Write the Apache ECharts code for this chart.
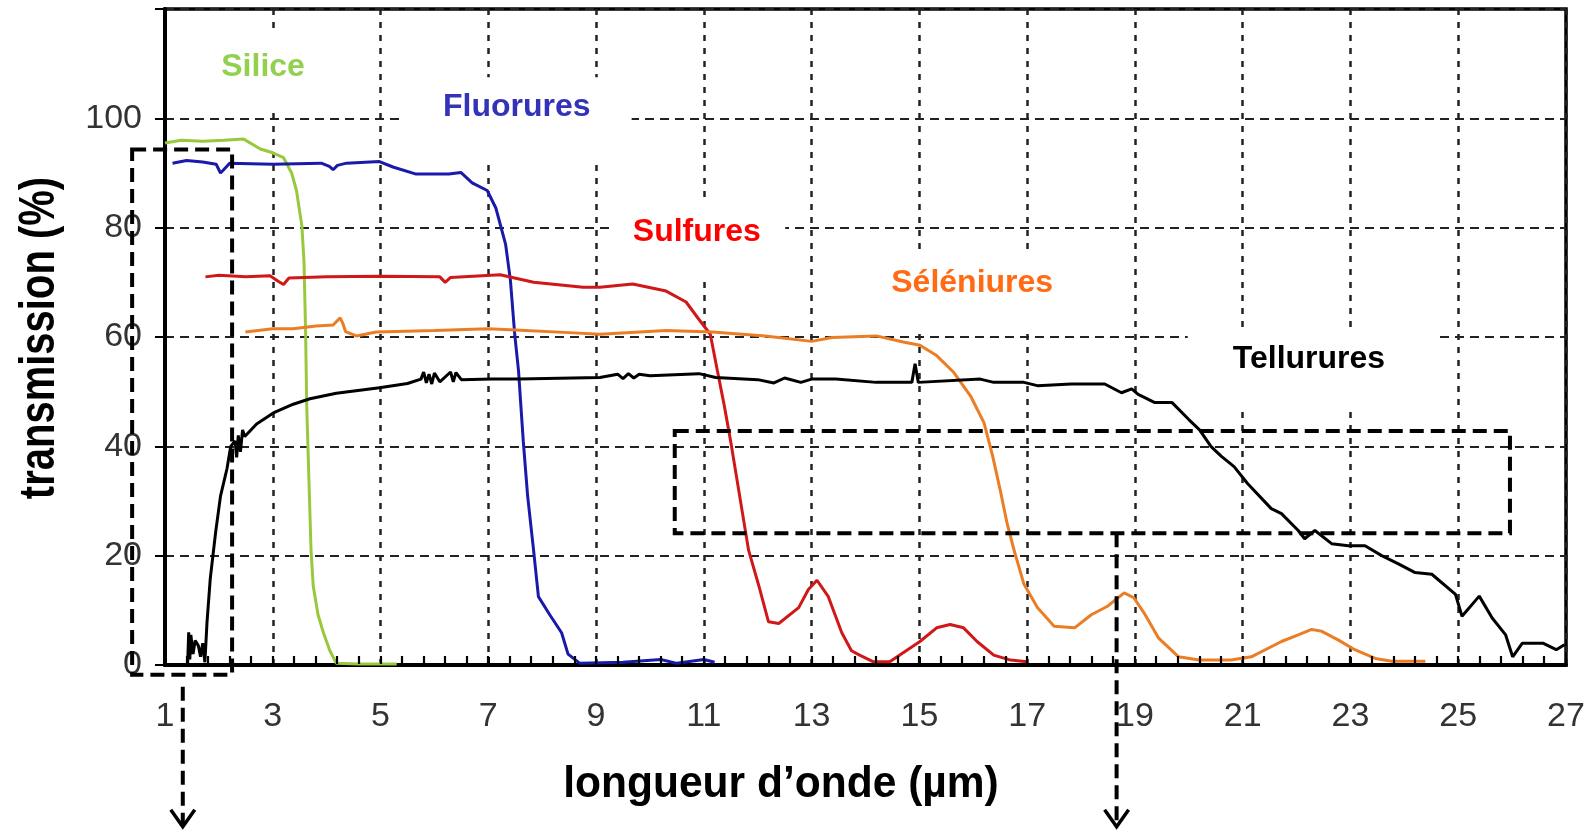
<!DOCTYPE html>
<html>
<head>
<meta charset="utf-8">
<script src="https://cdn.jsdelivr.net/npm/echarts@6/dist/echarts.min.js"></script>
<style>
html,body{margin:0;padding:0;background:#fff;}
#c{width:1592px;height:830px;}
</style>
</head>
<body>
<div id="c"></div>
<script>
// ---------- data (wavelength µm, transmission %) ----------
const xTickLabels = [1,3,5,7,9,11,13,15,17,19,21,23,25,27];
const xMinorStep = 0.4;
const yTickLabels = [0,20,40,60,80,100];

const silice = [[1.0,95.5],[1.3,96.0],[1.7,95.8],[2.1,96.0],[2.46,96.2],[2.77,94.4],[3.0,93.7],[3.2,92.8],[3.35,90.0],[3.44,86.8],[3.54,80.3],[3.58,73.7],[3.61,60.5],[3.63,47.4],[3.67,34.2],[3.71,21.0],[3.75,14.5],[3.84,9.2],[3.94,5.9],[4.06,2.6],[4.18,0.3],[4.6,0.2],[5.3,0.2]];

const fluorures = [[1.14,91.8],[1.4,92.3],[1.7,92.0],[1.95,91.6],[2.03,90.0],[2.08,90.5],[2.2,91.8],[3.0,91.6],[3.9,91.8],[4.05,91.2],[4.12,90.6],[4.2,91.4],[4.37,91.8],[4.98,92.1],[5.23,91.1],[5.66,89.8],[6.27,89.8],[6.49,90.1],[6.7,88.2],[6.98,86.8],[7.14,83.6],[7.32,77.0],[7.41,70.4],[7.49,60.5],[7.56,53.9],[7.65,40.8],[7.73,30.9],[7.84,21.0],[7.93,12.5],[8.14,9.2],[8.36,5.9],[8.48,2.0],[8.7,0.3],[9.5,0.5],[10.2,1.0],[10.5,0.3],[11.0,1.0],[11.2,0.5]];

const sulfures = [[1.75,71.0],[2.0,71.3],[2.5,71.0],[2.95,71.2],[3.1,70.2],[3.2,69.6],[3.3,70.8],[4.0,71.0],[5.0,71.1],[6.1,71.0],[6.2,70.0],[6.3,70.9],[7.22,71.4],[7.84,70.0],[8.76,69.1],[9.07,69.1],[9.68,69.7],[10.3,68.4],[10.67,66.4],[10.91,63.2],[11.12,60.5],[11.25,53.9],[11.38,47.4],[11.5,40.8],[11.61,34.2],[11.72,27.6],[11.83,21.0],[12.02,14.5],[12.2,7.9],[12.39,7.6],[12.76,10.5],[12.94,13.8],[13.1,15.5],[13.31,12.5],[13.56,5.9],[13.74,2.6],[13.89,1.8],[14.14,0.6],[14.45,0.6],[15.01,4.3],[15.32,6.8],[15.57,7.4],[15.82,6.8],[16.07,4.3],[16.38,1.8],[16.69,0.9],[17.0,0.6]];

const seleniures = [[2.49,60.9],[3.0,61.5],[3.38,61.5],[3.8,62.0],[4.12,62.2],[4.25,63.5],[4.3,62.5],[4.35,61.0],[4.55,60.2],[4.92,60.9],[6.0,61.2],[7.0,61.5],[7.5,61.3],[8.5,60.8],[9.07,60.5],[10.3,61.2],[11.16,60.9],[12.14,60.2],[13.0,59.2],[13.38,59.9],[14.2,60.2],[14.7,59.1],[15.01,58.5],[15.32,56.6],[15.64,53.5],[15.95,49.2],[16.2,44.3],[16.36,38.2],[16.5,32.0],[16.63,25.8],[16.76,20.9],[16.94,14.8],[17.19,10.5],[17.5,7.1],[17.88,6.8],[18.19,9.2],[18.5,10.8],[18.8,13.2],[18.98,12.3],[19.19,9.2],[19.44,4.9],[19.81,1.5],[20.19,0.9],[20.78,0.9],[21.16,1.5],[21.72,4.3],[22.03,5.5],[22.28,6.5],[22.46,6.2],[22.77,4.6],[23.08,2.8],[23.46,1.2],[23.77,0.7],[24.39,0.7]];

const tellurures = [[1.42,0.3],[1.44,6.0],[1.46,1.0],[1.48,5.5],[1.52,2.0],[1.56,4.5],[1.62,3.5],[1.66,1.5],[1.70,4.0],[1.74,0.5],[1.78,7.9],[1.84,15.8],[1.94,24.3],[2.03,30.9],[2.15,35.9],[2.22,40.0],[2.30,41.0],[2.33,38.0],[2.36,42.0],[2.40,39.0],[2.44,43.0],[2.48,41.8],[2.7,44.1],[3.01,46.1],[3.38,47.7],[3.69,48.7],[4.18,49.7],[4.98,50.7],[5.5,51.5],[5.75,52.3],[5.8,53.6],[5.85,51.6],[5.9,53.2],[5.95,51.4],[6.0,53.4],[6.1,51.8],[6.3,53.6],[6.35,51.8],[6.4,53.5],[6.5,52.2],[7.07,52.3],[7.57,52.3],[9.07,52.6],[9.4,53.2],[9.5,52.4],[9.6,53.3],[9.7,52.5],[9.8,53.2],[10.0,52.9],[10.91,53.3],[11.22,52.6],[12.0,52.2],[12.3,51.6],[12.5,52.5],[12.8,51.7],[13.0,52.3],[13.45,52.3],[14.2,51.7],[14.86,51.7],[14.92,55.1],[14.98,51.7],[16.13,52.3],[16.38,51.7],[16.94,51.7],[17.19,51.1],[17.82,51.4],[18.44,51.4],[18.75,49.8],[18.94,50.5],[19.06,49.5],[19.37,48.0],[19.69,48.0],[20.0,44.9],[20.2,43.0],[20.41,40.0],[20.6,38.2],[20.84,36.3],[21.09,33.2],[21.53,28.6],[21.72,27.7],[22.03,24.6],[22.15,23.1],[22.34,24.6],[22.65,22.2],[22.96,21.8],[23.27,21.8],[23.58,20.0],[23.89,18.5],[24.2,16.9],[24.51,16.6],[24.95,12.9],[25.07,8.9],[25.39,12.6],[25.63,8.6],[25.88,5.5],[26.01,1.5],[26.19,4.0],[26.57,4.0],[26.82,2.8],[26.97,3.7]];

const seriesNames = ['Silice','Fluorures','Sulfures','Séléniures','Tellurures'];
const seriesData = [silice, fluorures, sulfures, seleniures, tellurures];

// ---------- styling / layout ----------
const lineColors = ['#98c93c','#1a1aaa','#d01818','#eb7d25','#000000'];
const labelColors = ['#92d050','#3333b8','#ff0000','#ff6a13','#000000'];
// label boxes in data units: [x1, x2, yTop, yBottom, textX, textY]
const labelBoxes = [
  [1.39, 4.55, 115.5, 101.5, 2.82, 109.3],
  [5.41, 9.66, 107.5, 92.3, 7.53, 102.0],
  [9.25, 12.51, 84.5, 70.2, 10.87, 79.1],
  [13.68, 18.36, 75.9, 61.2, 15.98, 69.9],
  [19.98, 24.55, 61.6, 47.3, 22.23, 55.9]
];
// dashed annotation rectangles [x1, x2, yTop, yBottom]
const dashRects = [
  [0.39, 2.245, 94.3, -1.8],
  [10.46, 25.96, 42.8, 24.1]
];
// dashed arrows [x, yStart, yEnd]
const dashArrows = [
  [1.33, -4.0, -29.6],
  [18.66, 24.1, -29.6]
];

const FONT = '"Liberation Sans", Arial, Helvetica, sans-serif';

const chart = echarts.init(document.getElementById('c'), null, {renderer: 'canvas'});

const xMin = xTickLabels[0], xMax = xTickLabels[xTickLabels.length - 1];

const option = {
  animation: false,
  backgroundColor: '#ffffff',
  grid: {left: 165, right: 26, top: 9, bottom: 165, show: true, borderColor: '#000', borderWidth: 3.5, backgroundColor: 'transparent', containLabel: false},
  xAxis: {
    type: 'value',
    min: xMin, max: xMax,
    interval: xTickLabels[1] - xTickLabels[0],
    axisLine: {show: true, onZero: false, lineStyle: {color: '#000', width: 4}},
    axisTick: {show: true, inside: true, length: 8, lineStyle: {color: '#000', width: 2}},
    axisLabel: {show: true, margin: 35, fontSize: 34, fontFamily: FONT, color: '#333',
      formatter: v => xTickLabels.includes(v) ? String(v) : ''},
    splitLine: {show: true, lineStyle: {color: '#222', width: 2.5, type: [6, 7]}}
  },
  yAxis: {
    type: 'value',
    min: 0, max: 120, interval: 20,
    axisLine: {show: true, onZero: false, lineStyle: {color: '#000', width: 4}},
    axisTick: {show: true, inside: false, length: 10, lineStyle: {color: '#000', width: 2}},
    axisLabel: {show: true, margin: 23, fontSize: 34, fontFamily: FONT, color: '#333',
      formatter: v => yTickLabels.includes(v) ? String(v) : ''},
    splitLine: {show: true, lineStyle: {color: '#222', width: 2, type: [9, 6]}}
  },
  series: seriesData.map((d, i) => ({
    name: seriesNames[i],
    type: 'line',
    data: d,
    showSymbol: false,
    symbol: 'none',
    smooth: false,
    z: 5,
    lineStyle: {color: lineColors[i], width: 3},
    itemStyle: {color: lineColors[i]}
  }))
};

chart.setOption(option);

function P(p) { return chart.convertToPixel({gridIndex: 0}, p); }

const graphics = [];
// minor ticks on the wavelength axis (inside, every xMinorStep)
const nMinor = Math.round((xMax - xMin) / xMinorStep);
for (let k = 1; k < nMinor; k++) {
  const v = xMin + k * xMinorStep;
  const p = P([v, 0]);
  const xx = Math.round(p[0]);
  graphics.push({type: 'polyline', z: 30, silent: true,
    shape: {points: [[xx, p[1] - 1], [xx, p[1] - 9]]},
    style: {stroke: '#000', lineWidth: 2.2, fill: null}});
}
labelBoxes.forEach((b, i) => {
  const a = P([b[0], b[2]]), c = P([b[1], b[3]]);
  graphics.push({type: 'rect', z: 1, silent: true,
    shape: {x: a[0], y: a[1], width: c[0] - a[0], height: c[1] - a[1]},
    style: {fill: '#ffffff', stroke: null}});
  const t = P([b[4], b[5]]);
  graphics.push({type: 'text', z: 20, x: t[0], y: t[1], silent: true,
    style: {text: seriesNames[i], fill: labelColors[i], fontSize: 32, fontWeight: 'bold', fontFamily: FONT, align: 'center', verticalAlign: 'middle'}});
});
dashRects.forEach(r => {
  const a = P([r[0], r[2]]), c = P([r[1], r[3]]);
  graphics.push({type: 'rect', z: 30, silent: true,
    shape: {x: a[0], y: a[1], width: c[0] - a[0], height: c[1] - a[1]},
    style: {fill: 'transparent', stroke: '#000', lineWidth: 4, lineDash: [14, 7]}});
});
dashArrows.forEach(ar => {
  const s = P([ar[0], ar[1]]), e = P([ar[0], ar[2]]);
  graphics.push({type: 'polyline', z: 30, silent: true,
    shape: {points: [[s[0], s[1]], [e[0], e[1] - 2]]},
    style: {stroke: '#000', lineWidth: 4, lineDash: [14, 7], fill: null}});
  graphics.push({type: 'polyline', z: 30, silent: true,
    shape: {points: [[e[0] - 12, e[1] - 17], [e[0], e[1]], [e[0] + 12, e[1] - 17]]},
    style: {stroke: '#000', lineWidth: 3.5, fill: null}});
});
// axis titles
graphics.push({type: 'text', z: 20, x: 40, y: 338, rotation: Math.PI / 2, scaleX: 0.8, silent: true,
  style: {text: 'transmission (%)', fill: '#000', fontSize: 50, fontWeight: 'bold', fontFamily: FONT, align: 'center', verticalAlign: 'middle'}});
graphics.push({type: 'text', z: 20, x: 781, y: 785, scaleX: 0.945, silent: true,
  style: {text: 'longueur d\u2019onde (\u00b5m)', fill: '#000', fontSize: 45, fontWeight: 'bold', fontFamily: FONT, align: 'center', verticalAlign: 'middle'}});

chart.setOption({graphic: {elements: graphics}});
</script>
</body>
</html>
